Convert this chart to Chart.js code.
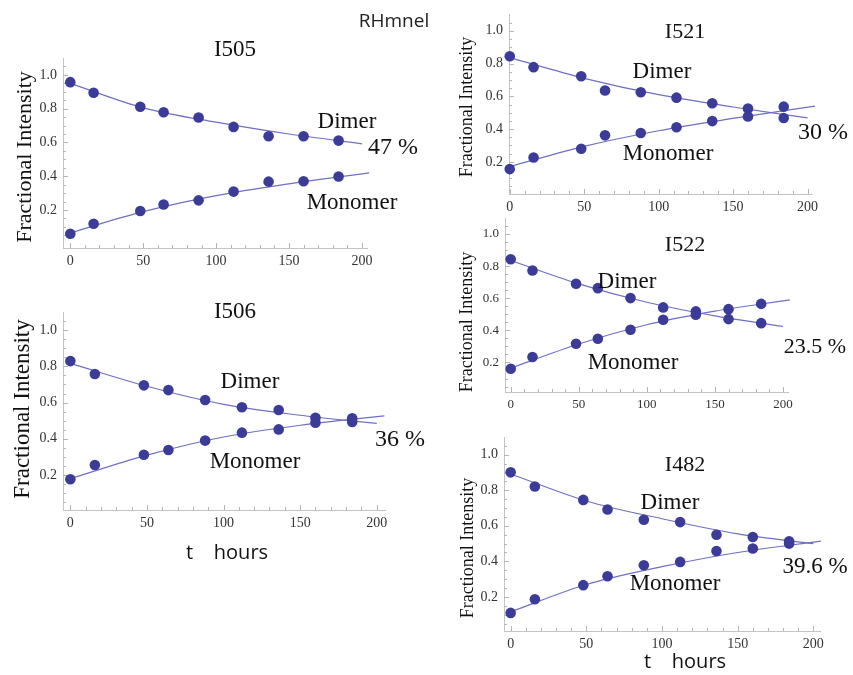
<!DOCTYPE html>
<html>
<head>
<meta charset="utf-8">
<script src="https://cdn.jsdelivr.net/npm/chart.js@4.4.1/dist/chart.umd.min.js"></script>
<style>
  html, body { margin: 0; padding: 0; background: #ffffff; }
  #wrap { position: relative; width: 853px; height: 675px; overflow: hidden; }
  #wrap canvas { position: absolute; left: 0; top: 0; pointer-events: none; }
</style>
</head>
<body>
<div id="wrap">
  <canvas id="cA"></canvas><canvas id="cB"></canvas><canvas id="cC"></canvas>
  <canvas id="cD"></canvas><canvas id="cE"></canvas>
</div>
<script>
// ---- data ----
const hours = [0, 16, 48, 64, 88, 112, 136, 160, 184];
const dimerFitT   = [0, 50, 100, 150, 200];
const monomerFitT = [0, 50, 100, 150, 205];
const xTickLabels = ['0', '50', '100', '150', '200'];
const yTickLabels = ['0.2', '0.4', '0.6', '0.8', '1.0'];

const I505_dimer   = [0.957, 0.894, 0.811, 0.779, 0.748, 0.692, 0.637, 0.637, 0.611];
const I505_monomer = [0.059, 0.119, 0.194, 0.233, 0.257, 0.309, 0.368, 0.370, 0.398];
const I505_dimerFit   = [0.950, 0.805, 0.720, 0.650, 0.592];
const I505_monomerFit = [0.065, 0.190, 0.285, 0.355, 0.420];

const I506_dimer   = [0.829, 0.758, 0.695, 0.669, 0.614, 0.574, 0.559, 0.516, 0.513];
const I506_monomer = [0.177, 0.255, 0.312, 0.338, 0.390, 0.434, 0.452, 0.489, 0.493];
const I506_dimerFit   = [0.816, 0.690, 0.590, 0.530, 0.485];
const I506_monomerFit = [0.180, 0.310, 0.410, 0.475, 0.527];

const I521_dimer   = [0.845, 0.778, 0.723, 0.636, 0.625, 0.592, 0.558, 0.526, 0.468];
const I521_monomer = [0.156, 0.227, 0.280, 0.362, 0.376, 0.411, 0.449, 0.477, 0.537];
const I521_dimerFit   = [0.836, 0.710, 0.610, 0.535, 0.468];
const I521_monomerFit = [0.171, 0.295, 0.390, 0.465, 0.540];

const I522_dimer   = [0.843, 0.773, 0.690, 0.663, 0.601, 0.543, 0.518, 0.470, 0.445];
const I522_monomer = [0.161, 0.234, 0.317, 0.348, 0.404, 0.466, 0.497, 0.532, 0.565];
const I522_dimerFit   = [0.835, 0.690, 0.575, 0.490, 0.424];
const I522_monomerFit = [0.165, 0.315, 0.435, 0.520, 0.590];

const I482_dimer   = [0.901, 0.821, 0.746, 0.692, 0.634, 0.621, 0.550, 0.537, 0.513];
const I482_monomer = [0.110, 0.187, 0.266, 0.316, 0.378, 0.397, 0.458, 0.472, 0.500];
const I482_dimerFit   = [0.892, 0.740, 0.640, 0.555, 0.500];
const I482_monomerFit = [0.116, 0.270, 0.370, 0.450, 0.514];

// ---- styling / layout ----
const SERIF = '"Liberation Serif", "Times New Roman", serif';
const SANS = '"Open Sans", "Liberation Sans", sans-serif';
const POINT_COLOR = '#3b3b98';
const LINE_COLOR = '#6f6fc6';
const AXIS_COLOR = '#c4c4c4';
const W = 853, H = 675;
const Y_AXIS_W = 50, X_AXIS_H = 30;

function pts(xs, ys) { return xs.map((x, i) => ({ x: x, y: ys[i] })); }

const tickPlugin = {
  id: 'inwardTicks',
  beforeDatasetsDraw(chart) {
    const ctx = chart.ctx, xs = chart.scales.x, ys = chart.scales.y, a = chart.chartArea;
    ctx.save();
    ctx.strokeStyle = '#b5b5b5';
    ctx.lineWidth = 1;
    ctx.beginPath();
    for (let v = 0; v <= 200; v += 10) {
      const px = Math.round(xs.getPixelForValue(v)) + 0.5;
      const len = (v % 50 === 0) ? 5 : 3;
      ctx.moveTo(px, a.bottom); ctx.lineTo(px, a.bottom - len);
    }
    for (let i = 1; i <= 21; i++) {
      const py = Math.round(ys.getPixelForValue(i * 0.05)) + 0.5;
      const len = (i % 4 === 0) ? 5 : 3;
      ctx.moveTo(a.left, py); ctx.lineTo(a.left + len, py);
    }
    ctx.stroke();
    ctx.restore();
  }
};

const textPlugin = {
  id: 'pageText',
  afterDraw(chart, args, opts) {
    const ctx = chart.ctx;
    ctx.save();
    (opts.items || []).forEach(t => {
      ctx.save();
      ctx.font = (t.size || 23) + 'px ' + (t.family || SERIF);
      ctx.fillStyle = t.color || '#111';
      ctx.textAlign = 'center';
      ctx.textBaseline = 'middle';
      ctx.translate(t.x, t.y);
      if (t.rot) ctx.rotate(t.rot);
      ctx.fillText(t.text, 0, 0);
      ctx.restore();
    });
    ctx.restore();
  }
};

function makePanel(id, area, xr, yr, tickSize, dimer, monomer, dimerFit, monomerFit, texts) {
  const el = document.getElementById(id);
  el.width = W; el.height = H;
  el.style.width = W + 'px'; el.style.height = H + 'px';
  return new Chart(el, {
    type: 'scatter',
    data: {
      datasets: [
        { data: pts(hours, dimer), showLine: false, pointRadius: 5.3, pointBackgroundColor: POINT_COLOR,
          pointBorderColor: POINT_COLOR, pointBorderWidth: 0, clip: false },
        { data: pts(hours, monomer), showLine: false, pointRadius: 5.3, pointBackgroundColor: POINT_COLOR,
          pointBorderColor: POINT_COLOR, pointBorderWidth: 0, clip: false },
        { data: pts(dimerFitT, dimerFit), showLine: true, pointRadius: 0, borderColor: LINE_COLOR,
          borderWidth: 1.2, cubicInterpolationMode: 'monotone', clip: false },
        { data: pts(monomerFitT, monomerFit), showLine: true, pointRadius: 0, borderColor: LINE_COLOR,
          borderWidth: 1.2, cubicInterpolationMode: 'monotone', clip: false }
      ]
    },
    options: {
      responsive: false,
      animation: false,
      events: [],
      layout: { padding: { left: area.L - Y_AXIS_W, top: area.T, right: W - area.R, bottom: H - area.B - X_AXIS_H } },
      plugins: { legend: { display: false }, tooltip: { enabled: false }, title: { display: false },
        pageText: { items: texts } },
      scales: {
        x: {
          type: 'linear', min: xr[0], max: xr[1],
          afterFit: s => { s.height = X_AXIS_H; },
          grid: { display: false, drawTicks: false },
          border: { display: true, color: AXIS_COLOR, width: 1 },
          ticks: { stepSize: 50, includeBounds: false, padding: 5, color: '#333',
            font: { family: SERIF, size: tickSize }, maxRotation: 0, autoSkip: false,
            callback: v => { const i = xTickLabels.indexOf(String(Math.round(v))); return (Math.abs(v - Math.round(v)) < 1e-6 && i >= 0) ? xTickLabels[i] : ''; } }
        },
        y: {
          type: 'linear', min: yr[0], max: yr[1],
          afterFit: s => { s.width = Y_AXIS_W; },
          grid: { display: false, drawTicks: false },
          border: { display: true, color: AXIS_COLOR, width: 1 },
          ticks: { stepSize: 0.2, includeBounds: false, padding: 6, color: '#333',
            font: { family: SERIF, size: tickSize }, autoSkip: false,
            callback: v => { const s = v.toFixed(1); return yTickLabels.indexOf(s) >= 0 ? s : ''; } }
        }
      }
    },
    plugins: [tickPlugin, textPlugin]
  });
}

const ROT = -Math.PI / 2;

makePanel('cA', { L: 63, T: 58, R: 367, B: 248 }, [-5, 203.5], [-0.025, 1.1], 14,
  I505_dimer, I505_monomer, I505_dimerFit, I505_monomerFit, [
    { text: 'I505', x: 235, y: 50, size: 23 },
    { text: 'Fractional Intensity', x: 25, y: 157, size: 22, rot: ROT },
    { text: 'Dimer', x: 347, y: 122, size: 23 },
    { text: '47 %', x: 393, y: 148, size: 24 },
    { text: 'Monomer', x: 352, y: 203, size: 23 },
    { text: 'RHmnel', x: 394, y: 22, size: 19, family: SANS, color: '#222' }
  ]);

makePanel('cB', { L: 63, T: 312, R: 385, B: 510 }, [-4.8, 205.4], [0.007, 1.1], 14,
  I506_dimer, I506_monomer, I506_dimerFit, I506_monomerFit, [
    { text: 'I506', x: 235, y: 312, size: 23 },
    { text: 'Fractional Intensity', x: 23, y: 409, size: 23, rot: ROT },
    { text: 'Dimer', x: 250, y: 382, size: 23 },
    { text: '36 %', x: 400, y: 440, size: 24 },
    { text: 'Monomer', x: 255, y: 462, size: 23 },
    { text: 't    hours', x: 227, y: 553, size: 20, family: SANS }
  ]);

makePanel('cC', { L: 509, T: 3, R: 812, B: 194 }, [-0.5, 203], [0.004, 1.1], 14,
  I521_dimer, I521_monomer, I521_dimerFit, I521_monomerFit, [
    { text: 'I521', x: 685, y: 32, size: 22 },
    { text: 'Fractional Intensity', x: 467, y: 107, size: 18, rot: ROT },
    { text: 'Dimer', x: 662, y: 72, size: 23 },
    { text: '30 %', x: 823, y: 133, size: 24 },
    { text: 'Monomer', x: 668, y: 154, size: 23 }
  ]);

makePanel('cD', { L: 505, T: 218, R: 788, B: 392 }, [-4.2, 203.7], [0.016, 1.1], 13,
  I522_dimer, I522_monomer, I522_dimerFit, I522_monomerFit, [
    { text: 'I522', x: 685, y: 245, size: 22 },
    { text: 'Fractional Intensity', x: 467, y: 322, size: 18, rot: ROT },
    { text: 'Dimer', x: 627, y: 282, size: 23 },
    { text: '23.5 %', x: 815, y: 347, size: 22 },
    { text: 'Monomer', x: 633, y: 363, size: 23 }
  ]);

makePanel('cE', { L: 504, T: 437, R: 820, B: 631 }, [-4.4, 204.4], [0.008, 1.1], 14,
  I482_dimer, I482_monomer, I482_dimerFit, I482_monomerFit, [
    { text: 'I482', x: 685, y: 465, size: 22 },
    { text: 'Fractional Intensity', x: 468, y: 548, size: 18, rot: ROT },
    { text: 'Dimer', x: 670, y: 503, size: 23 },
    { text: '39.6 %', x: 815, y: 567, size: 23 },
    { text: 'Monomer', x: 675, y: 584, size: 23 },
    { text: 't    hours', x: 685, y: 662, size: 20, family: SANS }
  ]);
</script>
</body>
</html>
